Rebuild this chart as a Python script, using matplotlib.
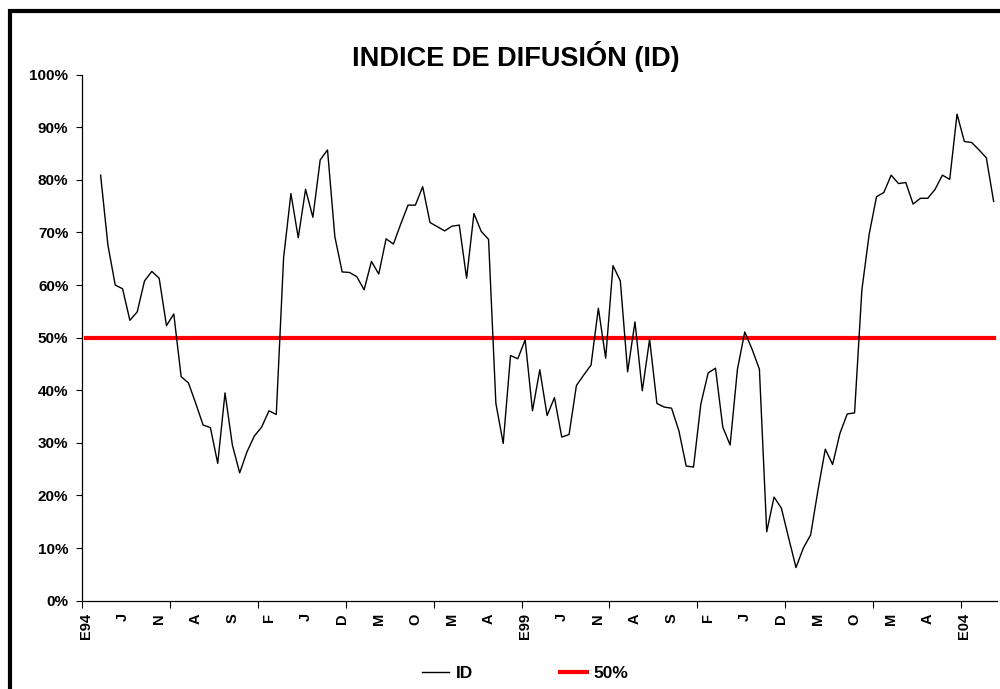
import matplotlib
matplotlib.use("Agg")
import matplotlib.pyplot as plt
from matplotlib.patches import Rectangle

plt.rcParams['font.family'] = ['Liberation Sans', 'DejaVu Sans']

title = "INDICE DE DIFUSIÓN (ID)"
# monthly categories Jan 1994 .. May 2004 (125 months); series starts in March 1994
n_months = 125
start_index = 2
id_values = [
    80.9, 67.6, 60.0, 59.3, 53.3, 54.9, 60.8, 62.6, 61.3, 52.3,
    54.5, 42.6, 41.4, 37.5, 33.4, 32.9, 26.1, 39.5, 29.6, 24.3,
    28.3, 31.3, 33.0, 36.1, 35.4, 65.2, 77.4, 69.0, 78.2, 72.9,
    83.8, 85.7, 69.2, 62.5, 62.4, 61.6, 59.1, 64.5, 62.1, 68.8,
    67.8, 71.6, 75.2, 75.2, 78.7, 71.9, 71.1, 70.3, 71.2, 71.4,
    61.3, 73.6, 70.2, 68.7, 37.5, 29.9, 46.6, 46.0, 49.6, 36.1,
    43.9, 35.2, 38.6, 31.1, 31.6, 40.9, 42.9, 44.8, 55.6, 46.1,
    63.7, 60.8, 43.5, 53.0, 39.9, 49.7, 37.5, 36.8, 36.6, 32.3,
    25.6, 25.4, 37.4, 43.3, 44.2, 33.0, 29.6, 44.0, 51.1, 47.8,
    44.0, 13.1, 19.7, 17.6, 11.9, 6.3, 10.0, 12.5, 21.0, 28.8,
    25.9, 31.8, 35.5, 35.7, 59.1, 69.7, 76.8, 77.6, 80.9, 79.3,
    79.5, 75.4, 76.5, 76.5, 78.2, 80.9, 80.1, 92.5, 87.3, 87.1,
    85.7, 84.2, 75.9,
]
ref_level = 50.0
x_labels = ["E94", "J", "N", "A", "S", "F", "J", "D", "M", "O", "M", "A",
            "E99", "J", "N", "A", "S", "F", "J", "D", "M", "O", "M", "A", "E04"]
label_step = 5
tick_step = 12
y_ticks = list(range(0, 101, 10))

fig = plt.figure(figsize=(10, 6.89), dpi=100)
ax = fig.add_axes([0.0823, 0.1282, 0.9150, 0.7634])

x_id = list(range(start_index, start_index + len(id_values)))
x_ref = list(range(n_months))
ax.plot(x_id, id_values, color='black', lw=1.0, label='ID', zorder=3)
ax.plot(x_ref, [ref_level] * n_months, color='#FF0000', lw=3.0,
        solid_capstyle='projecting', label='50%', zorder=2)

ax.set_xlim(-0.5, n_months - 0.5)
ax.set_ylim(0, 100)

ax.set_yticks(y_ticks)
ax.set_yticklabels([f"{v}%" for v in y_ticks])
ax.tick_params(axis='y', direction='out', length=4, width=0.8, pad=6,
               labelsize=11)
for lbl in ax.get_yticklabels():
    lbl.set_fontweight('bold')

# year tick marks at category boundaries, labels at category centers
ax.set_xticks([-0.5 + tick_step * i for i in range(n_months // tick_step + 1)])
ax.set_xticklabels([])
ax.tick_params(axis='x', which='major', direction='out', length=5, width=0.8)
ax.set_xticks([label_step * i for i in range(len(x_labels))], minor=True)
ax.set_xticklabels(x_labels, minor=True, rotation=90, fontweight='bold',
                   fontsize=10.5, va='top', ha='center')
ax.tick_params(axis='x', which='minor', length=0, pad=9)

for s in ['top', 'right']:
    ax.spines[s].set_visible(False)
for s in ['left', 'bottom']:
    ax.spines[s].set_linewidth(0.9)
    ax.spines[s].set_color('black')

fig.text(0.516, 0.918, title, ha='center', va='center', fontsize=19.5,
         fontweight='bold')

leg = fig.legend(loc='center', bbox_to_anchor=(0.525, 0.023), ncol=2,
                 frameon=False, prop={'weight': 'bold', 'size': 12.5},
                 handlelength=1.6, columnspacing=5.0, handletextpad=0.35)

# outer chart border (partially outside the image)
fig.patches.append(Rectangle((0.010, -0.2), 1.2, 1.2 - 11.5 / 689,
                             transform=fig.transFigure, fill=False,
                             edgecolor='black', lw=3.0, clip_on=False))

fig.savefig('out.png', dpi=100)
